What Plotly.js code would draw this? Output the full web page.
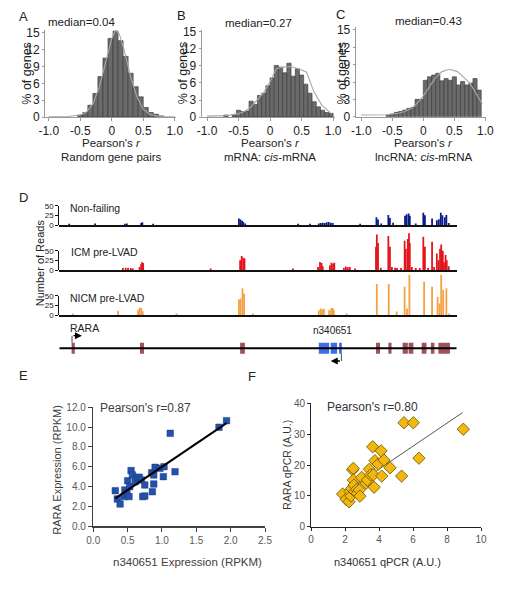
<!DOCTYPE html>
<html><head><meta charset="utf-8">
<script src="https://cdn.plot.ly/plotly-3.0.1.min.js"></script>
<style>html,body{margin:0;padding:0;background:#fff}#chart{width:509px;height:599px}</style>
</head><body><div id="chart"></div>
<script>
// ---------- Panel A/B/C : histograms of Pearson's r ----------
const binA = [-0.50,-0.42,-0.34,-0.26,-0.18,-0.10,-0.02,0.06,0.14,0.22,0.30,0.38,0.46,0.54,0.62,0.70,0.78];
const pctA = [0.35,0.8,2.1,4.2,7.2,10.5,14.0,15.3,13.6,10.8,7.8,5.4,3.6,1.7,0.8,0.5,0.2];
const fitAx = [-1,-0.7,-0.5,-0.4,-0.3,-0.2,-0.1,0,0.06,0.12,0.2,0.3,0.4,0.5,0.6,0.7,0.85,1];
const fitAy = [0.05,0.1,0.35,0.9,2.3,5.2,9.6,14,15.5,14.8,11.8,7.2,3.6,1.4,0.5,0.2,0.08,0.05];

const binB = [-0.700,-0.567,-0.500,-0.433,-0.367,-0.300,-0.233,-0.167,-0.100,-0.033,0.033,0.100,0.167,0.233,0.300,0.367,0.433,0.500,0.567,0.633,0.700,0.767,0.833,0.900,0.967];
const pctB = [0.35,0.35,1.2,0.95,1.05,2.8,2.2,3.8,4.2,5.5,6.9,9.1,8.8,7.8,9.5,7.2,8.5,7.4,5.8,4.2,2.7,1.8,1.2,0.8,0.65];
const fitBx = [-1,-0.7,-0.5,-0.4,-0.3,-0.2,-0.1,0,0.1,0.2,0.33,0.45,0.58,0.69,0.82,0.98];
const fitBy = [0.15,0.25,0.6,1.0,1.8,3.0,4.3,6.2,8.5,8.8,8.9,8.5,7.9,4.6,2.1,0.5];

const binC = [-0.567,-0.500,-0.433,-0.367,-0.300,-0.233,-0.167,-0.100,-0.033,0.033,0.100,0.167,0.233,0.300,0.367,0.433,0.500,0.567,0.633,0.700,0.767,0.833,0.900];
const pctC = [0.25,0.45,0.75,0.9,1.15,1.45,1.6,3.0,3.0,6.3,6.9,7.2,7.5,6.2,6.6,6.3,6.9,5.5,6.1,5.5,5.8,6.6,4.6];
const fitCx = [-1,-0.6,-0.4,-0.3,-0.2,-0.1,0,0.1,0.2,0.3,0.42,0.55,0.65,0.75,0.85,0.95];
const fitCy = [0.3,0.35,0.6,0.9,1.4,2.3,3.6,5.2,6.8,7.8,8.2,7.8,6.8,5.8,4.0,2.2];

const histTicksX = [-1,-0.5,0,0.5,1];
const histTickTextX = ['-1.0','-0.5','0','0.5','1.0'];
const histTicksY = [0,3,6,9,12,15];

// ---------- Panel D : read coverage (relative locus position 0-100) ----------
const nfPos = [2.5,9.0,16.5,17.0,20.6,20.9,23.6,45.2,45.6,46.0,46.3,46.8,60.1,63.1,65.3,65.8,66.3,66.8,67.3,67.8,68.3,68.8,75.7,79.8,80.2,81.0,82.8,83.2,84.0,87.0,87.4,87.9,88.2,89.7,91.6,92.0,93.8,95.0,95.5,96.0,96.4,97.0,97.4,98.0];
const nfReads = [3,4,3,4,5,7,3,17,14,11,8,4,3,3,4,5,6,5,7,8,6,5,3,20,14,4,26,18,6,24,28,30,24,4,32,25,17,12,15,32,25,20,26,5];

const icmPos = [16.0,16.7,17.3,18.0,18.5,20.2,20.6,20.8,21.1,38.1,45.5,45.9,46.3,46.6,58.8,65.1,65.6,66.0,66.3,68.1,68.5,68.9,69.2,71.6,72.1,72.6,73.1,74.4,79.7,79.9,80.2,80.9,82.8,83.2,83.7,84.5,85.0,86.0,86.9,87.2,87.7,88.0,88.2,88.7,89.7,90.7,91.6,92.0,92.8,93.8,94.3,95.0,95.4,95.8,96.1,96.5,96.8,97.2,97.5,98.0];
const icmReads = [5,6,5,5,4,8,15,20,18,4,25,36,32,30,4,8,21,18,10,12,19,16,19,6,9,7,8,4,60,92,70,6,88,60,8,6,5,5,76,55,80,95,70,8,5,5,86,60,5,73,8,43,25,55,66,50,20,39,25,10];

const nicmPos = [3.4,14.8,19.8,20.2,20.6,21.0,29.5,45.2,45.6,46.1,46.5,48.7,65.3,65.8,66.2,66.6,67.9,68.4,68.8,69.1,72.3,79.9,82.9,84.9,86.9,87.5,88.1,91.8,93.8,95.2,95.7,96.1,96.6,97.4,98.1];
const nicmReads = [4,11,12,19,18,10,4,40,43,69,55,4,12,17,14,16,12,17,18,12,4,80,80,9,73,17,104,86,73,47,30,104,65,69,4];

const readTicks = [0,25,50];

// gene model exons (start, end)
const raraStart = [3.1,20.3,45.5,79.7,82.8,86.4,87.9,91.2,93.5,95.4];
const raraEnd   = [3.9,21.3,46.7,80.7,83.6,87.7,89.1,92.4,94.4,98.3];
const lncStart  = [65.3,68.3,70.4];
const lncEnd    = [67.9,69.9,71.1];
const raraTSS = 3.2, lncTSS = 71.0;

// ---------- Panel E : RNA-seq expression ----------
const exprX = [0.32,0.35,0.39,0.45,0.46,0.49,0.50,0.52,0.53,0.55,0.57,0.61,0.64,0.67,0.70,0.72,0.75,0.75,0.85,0.86,0.88,0.88,0.90,0.97,1.02,1.03,1.12,1.19,1.83,1.94];
const exprY = [3.57,2.73,2.22,2.97,3.64,3.30,4.58,2.97,3.98,5.60,5.16,4.48,4.92,4.92,4.65,2.97,3.03,4.15,5.39,3.47,4.25,5.16,5.93,5.83,4.99,6.00,9.37,5.49,9.98,10.65];
const exprFitX = [0.32,1.94];
const exprFitY = [2.8,10.4];
const exprTicksX = [0,0.5,1,1.5,2,2.5];
const exprTickTextX = ['0.0','0.5','1.0','1.5','2.0','2.5'];
const exprTicksY = [0,2,4,6,8,10,12];
const exprTickTextY = ['0.0','2.0','4.0','6.0','8.0','10.0','12.0'];

// ---------- Panel F : qPCR ----------
const qX = [1.86,2.06,2.24,2.29,2.35,2.39,2.45,2.49,2.49,2.53,2.59,2.69,2.73,2.84,2.88,2.98,3.24,3.31,3.43,3.51,3.63,3.67,3.71,3.76,3.96,4.12,4.16,4.29,4.65,5.33,5.47,6.02,6.35,8.96];
const qY = [10.6,8.9,8.1,11.4,9.95,12.4,18.4,18.9,15.1,13.5,11.4,12.1,10.8,11.9,9.9,16.0,14.1,15.1,18.6,16.8,25.9,16.8,12.8,21.4,20.3,24.6,16.4,21.6,19.1,16.4,33.7,33.7,22.2,31.6];
const qFitX = [1.67,8.92];
const qFitY = [9.95,37.0];
const qTicksX = [0,2,4,6,8,10];
const qTicksY = [0,10,20,30,40];

// ---------- helpers (layout positions only) ----------
const W = 509, H = 599;
const px = x => x / W;
const py = y => 1 - y / H;
const FONT = 'Liberation Sans, Arial, sans-serif';

const traces = [];
// histograms
[[binA,pctA,fitAx,fitAy,0.08,''],[binB,pctB,fitBx,fitBy,0.0667,'2'],[binC,pctC,fitCx,fitCy,0.0667,'3']].forEach(([bx,by,fx,fy,w,n])=>{
  traces.push({type:'bar', x:bx, y:by, width:w, xaxis:'x'+n, yaxis:'y'+n,
    marker:{color:'#6a6a6a', line:{color:'#383838', width:0.6}}, hoverinfo:'skip'});
  traces.push({type:'scatter', mode:'lines', x:fx, y:fy, xaxis:'x'+n, yaxis:'y'+n,
    line:{color:'#a8a8a8', width:1.1}, hoverinfo:'skip'});
});
// coverage tracks
[[nfPos,nfReads,'#0a1a8a','4'],[icmPos,icmReads,'#e3141b','5'],[nicmPos,nicmReads,'#f5a043','6']].forEach(([p,r,c,n])=>{
  traces.push({type:'bar', x:p, y:r, width:0.45, xaxis:'x'+n, yaxis:'y'+n,
    marker:{color:c, line:{width:0}}, hoverinfo:'skip'});
});
// dummy traces to host the 0-50 read-count axes
[['4','8'],['5','9'],['6','10']].forEach(([xn,yn])=>{
  traces.push({type:'scatter', mode:'lines', x:[], y:[], xaxis:'x'+xn, yaxis:'y'+yn, hoverinfo:'skip'});
});
// gene model
traces.push({type:'scatter', mode:'lines', x:[0,100], y:[0,0], xaxis:'x7', yaxis:'y7',
  line:{color:'#000', width:2}, hoverinfo:'skip'});
traces.push({type:'bar', x:raraStart.map((s,i)=>(s+raraEnd[i])/2), width:raraStart.map((s,i)=>raraEnd[i]-s),
  y:raraStart.map(()=>1), base:-0.5, xaxis:'x7', yaxis:'y7', marker:{color:'#a0525a', line:{width:0}}, hoverinfo:'skip'});
traces.push({type:'bar', x:lncStart.map((s,i)=>(s+lncEnd[i])/2), width:lncStart.map((s,i)=>lncEnd[i]-s),
  y:lncStart.map(()=>1), base:-0.5, xaxis:'x7', yaxis:'y7', marker:{color:'#3d70e8', line:{width:0}}, hoverinfo:'skip'});
traces.push({type:'scatter', mode:'lines', x:[raraTSS,raraTSS], y:[0.5,1.15], xaxis:'x7', yaxis:'y7',
  line:{color:'#666', width:1.2}, hoverinfo:'skip'});
traces.push({type:'scatter', mode:'lines', x:[lncTSS,lncTSS], y:[-0.5,-1.15], xaxis:'x7', yaxis:'y7',
  line:{color:'#666', width:1.2}, hoverinfo:'skip'});
// panel E
traces.push({type:'scatter', mode:'markers', x:exprX, y:exprY, xaxis:'x11', yaxis:'y11',
  marker:{symbol:'square', size:6.5, color:'#2451a9', line:{color:'#173a85', width:0.5}}, hoverinfo:'skip'});
traces.push({type:'scatter', mode:'lines', x:exprFitX, y:exprFitY, xaxis:'x11', yaxis:'y11',
  line:{color:'#000', width:2}, hoverinfo:'skip'});
// panel F
traces.push({type:'scatter', mode:'lines', x:qFitX, y:qFitY, xaxis:'x12', yaxis:'y12',
  line:{color:'#555', width:1}, hoverinfo:'skip'});
traces.push({type:'scatter', mode:'markers', x:qX, y:qY, xaxis:'x12', yaxis:'y12',
  marker:{symbol:'diamond', size:9.5, color:'#f3b80f', line:{color:'#6a5000', width:0.8}}, hoverinfo:'skip'});

function histX(d0,d1,r,anchor){return {domain:[px(d0),px(d1)], range:r, anchor:anchor, showgrid:false, zeroline:false,
  showline:true, linecolor:'#9a9a9a', linewidth:1, ticks:'outside', ticklen:3, tickcolor:'#9a9a9a',
  tickvals:histTicksX, ticktext:histTickTextX, tickfont:{size:12,color:'#222'}};}
function histY(b,t,r,anchor){return {domain:[py(b),py(t)], range:r, anchor:anchor, showgrid:false, zeroline:false,
  showline:true, linecolor:'#9a9a9a', linewidth:1, ticks:'outside', ticklen:2, tickcolor:'#9a9a9a',
  tickvals:histTicksY, tickfont:{size:12,color:'#222'}};}
function trackX(n){return {domain:[px(59.3),px(456.7)], range:[0,100], anchor:'y'+n, showgrid:false, zeroline:false,
  showline:true, linecolor:'#111', linewidth:1.5, ticks:'', showticklabels:false};}
function trackY(b,t){return {domain:[py(b),py(t)], range:[0,110], showgrid:false, zeroline:false,
  showline:false, ticks:'', showticklabels:false};}
function readAxis(b,t,anchor){return {domain:[py(b),py(t)], range:[0,50], anchor:anchor, showgrid:false, zeroline:false,
  showline:true, linecolor:'#111', linewidth:1, ticks:'outside', ticklen:3, tickcolor:'#111',
  tickvals:readTicks, tickfont:{size:8,color:'#222'}};}
const hidden = {showgrid:false, zeroline:false, showline:false, ticks:'', showticklabels:false};

const layout = {
  width:W, height:H, margin:{l:0,r:0,t:0,b:0}, showlegend:false,
  paper_bgcolor:'#fff', plot_bgcolor:'rgba(0,0,0,0)', font:{family:FONT, color:'#222'},
  xaxis: histX(45,176,[-1.06,1.02],'y'),
  yaxis: histY(117,30,[0,15.5],'x'),
  xaxis2: histX(201.7,335,[-1.084,1.03],'y2'),
  yaxis2: histY(117,30,[0,15.35],'x2'),
  xaxis3: histX(355.7,486,[-1.09,1.01],'y3'),
  yaxis3: histY(116.7,27.3,[0,15.46],'x3'),
  xaxis4: trackX('4'), yaxis4: Object.assign(trackY(225,182.5),{anchor:'x4'}),
  xaxis5: Object.assign(trackX('5'),{matches:'x4'}), yaxis5: Object.assign(trackY(270,227.5),{anchor:'x5'}),
  xaxis6: Object.assign(trackX('6'),{matches:'x4'}), yaxis6: Object.assign(trackY(315,272.5),{anchor:'x6'}),
  yaxis8: readAxis(225,205.7,'x4'),
  yaxis9: readAxis(270,250.7,'x5'),
  yaxis10: readAxis(315,295.7,'x6'),
  xaxis7: Object.assign({domain:[px(59.3),px(456.7)], range:[0,100], anchor:'y7'}, hidden),
  yaxis7: Object.assign({domain:[py(370.3),py(326.3)], range:[-2,2], anchor:'x7'}, hidden),
  xaxis11: {domain:[px(93.3),px(265)], range:[0,2.5], anchor:'y11', showgrid:false, zeroline:false,
    showline:true, linecolor:'#404040', linewidth:1.5, ticks:'outside', ticklen:4, tickcolor:'#404040',
    tickvals:exprTicksX, ticktext:exprTickTextX, tickfont:{size:10,color:'#595959'}},
  yaxis11: {domain:[py(526),py(407.3)], range:[0,12], anchor:'x11', showgrid:false, zeroline:false,
    showline:true, linecolor:'#404040', linewidth:1.5, ticks:'outside', ticklen:4, tickcolor:'#404040',
    tickvals:exprTicksY, ticktext:exprTickTextY, tickfont:{size:10,color:'#595959'}},
  xaxis12: {domain:[px(311),px(481)], range:[0,10], anchor:'y12', showgrid:false, zeroline:false,
    showline:true, linecolor:'#222', linewidth:1, ticks:'outside', ticklen:3, tickcolor:'#222',
    tickvals:qTicksX, tickfont:{size:10,color:'#555'}},
  yaxis12: {domain:[py(526.7),py(403.3)], range:[0,40], anchor:'x12', showgrid:false, zeroline:false,
    showline:true, linecolor:'#222', linewidth:1, ticks:'outside', ticklen:3, tickcolor:'#222',
    tickvals:qTicksY, tickfont:{size:10,color:'#555'}},
  annotations: [], shapes: []
};

function note(text,x,y,size,opts){
  layout.annotations.push(Object.assign({text:text, x:px(x), y:py(y), xref:'paper', yref:'paper',
    showarrow:false, xanchor:'center', yanchor:'middle', font:{size:size, color:'#222', family:FONT}}, opts||{}));
}
// panel letters
note('A',23,16,13); note('B',181.7,15,13); note('C',340,14,13);
note('D',23,197,13); note('E',23,375,13); note('F',251.7,376.7,13);
// histogram texts
note('median=0.04',81,21.7,11.5); note('median=0.27',258,23,11.5); note('median=0.43',428,20.7,11.5);
note('% of genes',26.7,73,12.5,{textangle:-90});
note('% of genes',183.3,73,12.5,{textangle:-90});
note('% of genes',341.5,73,12.5,{textangle:-90});
note("Pearson's <i>r</i>",111,143,11.5); note('Random gene pairs',111,157,11.5);
note("Pearson's <i>r</i>",270,143,11.5); note('mRNA: <i>cis</i>-mRNA',270,157,11.5);
note("Pearson's <i>r</i>",423,143,11.5); note('lncRNA: <i>cis</i>-mRNA',423,157,11.5);
// panel D texts
note('Non-failing',68,208.3,10.5,{xanchor:'left'});
note('ICM pre-LVAD',69,252.3,10.5,{xanchor:'left'});
note('NICM pre-LVAD',68,298.3,10.5,{xanchor:'left'});
note('Number of Reads',40,263.3,11,{textangle:-90});
note('RARA',68,328,10.5,{xanchor:'left'});
note('n340651',332.5,330.7,10);
// TSS arrows
layout.annotations.push({x:raraTSS+2.5, y:1.15, ax:raraTSS, ay:1.15, xref:'x7', yref:'y7', axref:'x7', ayref:'y7',
  text:'', showarrow:true, arrowhead:2, arrowsize:1, arrowwidth:1.4, arrowcolor:'#000', standoff:0, startstandoff:0});
layout.annotations.push({x:lncTSS-2.7, y:-1.15, ax:lncTSS, ay:-1.15, xref:'x7', yref:'y7', axref:'x7', ayref:'y7',
  text:'', showarrow:true, arrowhead:2, arrowsize:1, arrowwidth:1.4, arrowcolor:'#000', standoff:0, startstandoff:0});
// panel E texts
note("Pearson's r=0.87",145,408.3,12,{font:{size:12,color:'#404040',family:FONT}});
note('n340651 Expression (RPKM)',187.5,561.7,11.5,{font:{size:11.5,color:'#404040',family:FONT}});
note('RARA Expression (RPKM)',56.7,470,11,{textangle:-90,font:{size:11,color:'#404040',family:FONT}});
// panel F texts
note("Pearson's r=0.80",372.7,407.3,12,{font:{size:12,color:'#333',family:FONT}});
note('n340651 qPCR (A.U.)',387.7,562.3,11,{font:{size:11,color:'#333',family:FONT}});
note('RARA qPCR (A.U.)',286.7,465,10.5,{textangle:-90,font:{size:10.5,color:'#333',family:FONT}});

Plotly.newPlot('chart', traces, layout, {staticPlot:true, displayModeBar:false});
</script></body></html>
